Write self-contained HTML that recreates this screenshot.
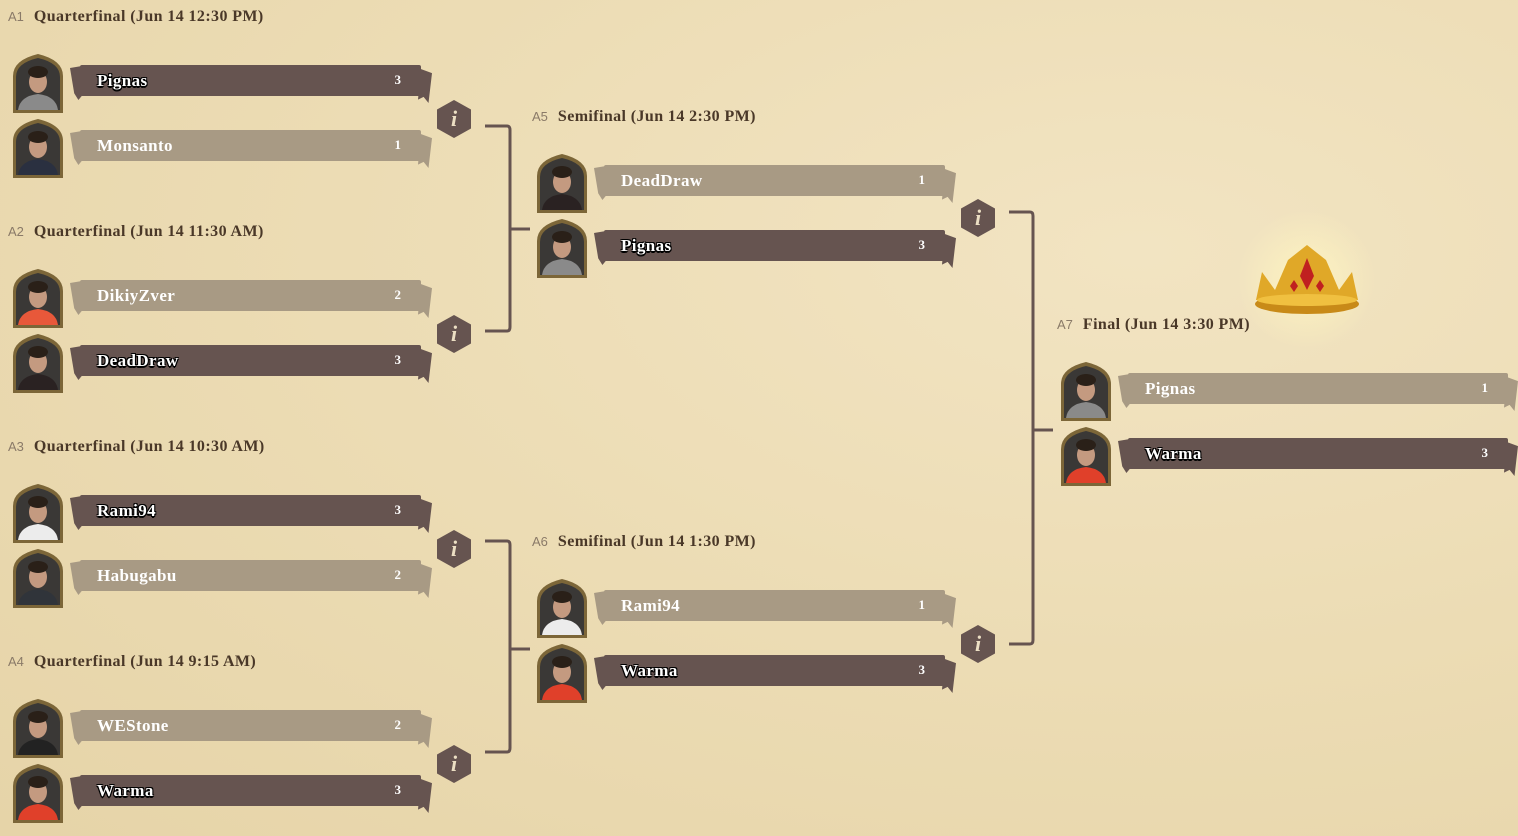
<!DOCTYPE html>
<html><head><meta charset="utf-8"><style>
body{margin:0;width:1518px;height:836px;overflow:hidden;background:#ecdcb4;position:relative;font-family:"Liberation Serif",serif}
.bg{position:absolute;inset:0;background:radial-gradient(ellipse at 75% 30%,#f2e4c2 0%,#ecdcb4 50%,#e6d4a8 100%)}
.t{position:absolute;font-size:16px;font-weight:bold;color:#4a3828;white-space:nowrap;letter-spacing:.4px}
.t span{font-family:"Liberation Sans",sans-serif;font-weight:normal;font-size:13px;color:#8a7a68;margin-right:10px;letter-spacing:0}
.b{position:absolute;height:31px;border-radius:2px}
.d{background:#665450}.l{background:#a89a84}
.n{position:absolute;top:6px;left:17px;font-size:17px;font-weight:bold;color:#fff;letter-spacing:.4px}
.d .n{text-shadow:-1px -1px 0 #000,1px -1px 0 #000,-1px 1px 0 #000,1px 1px 0 #000,0 2px 0 #000}
.s{position:absolute;top:7px;right:20px;font-size:13px;font-weight:bold;color:#fff}
.tl,.tr{position:absolute;width:14px;height:34px}
.tl{clip-path:polygon(0 6%,85% 0,100% 80%,60% 100%,30% 80%)}
.tr{clip-path:polygon(20% 0,100% 12%,75% 100%,40% 82%,0 90%)}
.hx{position:absolute;width:34px;height:38px;background:#665450;clip-path:polygon(50% 0,100% 25%,100% 75%,50% 100%,0 75%,0 25%);color:#ecdfc4;font:italic bold 22px "Liberation Serif",serif;text-align:center;line-height:38px}
.av{position:absolute;width:52px;height:60px}
</style></head><body><div class="bg"></div>
<svg width="0" height="0" style="position:absolute"><defs>
<symbol id="av" viewBox="0 0 52 60"><path d="M1,59L1,22Q1,6 26,0Q51,6 51,22L51,59Z" fill="#7c6638"/><path d="M4,56L4,23Q4,9 26,4Q48,9 48,23L48,56Z" fill="#3a3836"/><path d="M6,56Q8,42 26,40Q44,42 46,56Z" fill="currentColor"/><ellipse cx="26" cy="28" rx="9" ry="11" fill="#c49a80"/><ellipse cx="26" cy="18" rx="10" ry="6" fill="#2a2018"/></symbol></defs></svg>

<svg width="1518" height="836" style="position:absolute;left:0;top:0" fill="none" stroke="#665450" stroke-width="3">
<path d="M485,126H507Q510,126 510,130V327Q510,331 507,331H485M510,229H530"/>
<path d="M485,541H507Q510,541 510,545V748Q510,752 507,752H485M510,649H530"/>
<path d="M1009,212H1030Q1033,212 1033,216V640Q1033,644 1030,644H1009M1033,430H1053"/>
<defs><radialGradient id="gl"><stop offset="0" stop-color="#fff6c0" stop-opacity=".9"/><stop offset="1" stop-color="#fff6c0" stop-opacity="0"/></radialGradient></defs>
<circle cx="1307" cy="280" r="70" fill="url(#gl)" stroke="none"/>
<g stroke="none"><path d="M1256,300L1262,272L1275,290L1288,260L1307,245L1326,260L1339,290L1352,272L1358,300Z" fill="#e0a828"/><ellipse cx="1307" cy="304" rx="52" ry="10" fill="#c88a18"/><ellipse cx="1307" cy="300" rx="50" ry="6" fill="#f0c040"/><path d="M1307,258L1314,276L1307,290L1300,276Z" fill="#c02020"/><path d="M1294,280l4,6l-4,6l-4,-6Z M1320,280l4,6l-4,6l-4,-6Z" fill="#c02020"/></g>
</svg>

<div class="t" style="left:8px;top:8px"><span>A1</span>Quarterfinal (Jun 14 12:30 PM)</div>
<div class="t" style="left:8px;top:223px"><span>A2</span>Quarterfinal (Jun 14 11:30 AM)</div>
<div class="t" style="left:8px;top:438px"><span>A3</span>Quarterfinal (Jun 14 10:30 AM)</div>
<div class="t" style="left:8px;top:653px"><span>A4</span>Quarterfinal (Jun 14 9:15 AM)</div>
<div class="t" style="left:532px;top:108px"><span>A5</span>Semifinal (Jun 14 2:30 PM)</div>
<div class="t" style="left:532px;top:533px"><span>A6</span>Semifinal (Jun 14 1:30 PM)</div>
<div class="t" style="left:1057px;top:316px"><span>A7</span>Final (Jun 14 3:30 PM)</div>

<!-- QF bars -->
<div class="tl d" style="left:70px;top:66px"></div><div class="b d" style="left:80px;top:65px;width:341px"><div class="n">Pignas</div><div class="s">3</div></div><div class="tr d" style="left:418px;top:69px"></div>
<div class="tl l" style="left:70px;top:131px"></div><div class="b l" style="left:80px;top:130px;width:341px"><div class="n">Monsanto</div><div class="s">1</div></div><div class="tr l" style="left:418px;top:134px"></div>
<div class="tl l" style="left:70px;top:281px"></div><div class="b l" style="left:80px;top:280px;width:341px"><div class="n">DikiyZver</div><div class="s">2</div></div><div class="tr l" style="left:418px;top:284px"></div>
<div class="tl d" style="left:70px;top:346px"></div><div class="b d" style="left:80px;top:345px;width:341px"><div class="n">DeadDraw</div><div class="s">3</div></div><div class="tr d" style="left:418px;top:349px"></div>
<div class="tl d" style="left:70px;top:496px"></div><div class="b d" style="left:80px;top:495px;width:341px"><div class="n">Rami94</div><div class="s">3</div></div><div class="tr d" style="left:418px;top:499px"></div>
<div class="tl l" style="left:70px;top:561px"></div><div class="b l" style="left:80px;top:560px;width:341px"><div class="n">Habugabu</div><div class="s">2</div></div><div class="tr l" style="left:418px;top:564px"></div>
<div class="tl l" style="left:70px;top:711px"></div><div class="b l" style="left:80px;top:710px;width:341px"><div class="n">WEStone</div><div class="s">2</div></div><div class="tr l" style="left:418px;top:714px"></div>
<div class="tl d" style="left:70px;top:776px"></div><div class="b d" style="left:80px;top:775px;width:341px"><div class="n">Warma</div><div class="s">3</div></div><div class="tr d" style="left:418px;top:779px"></div>
<!-- SF bars -->
<div class="tl l" style="left:594px;top:166px"></div><div class="b l" style="left:604px;top:165px;width:341px"><div class="n">DeadDraw</div><div class="s">1</div></div><div class="tr l" style="left:942px;top:169px"></div>
<div class="tl d" style="left:594px;top:231px"></div><div class="b d" style="left:604px;top:230px;width:341px"><div class="n">Pignas</div><div class="s">3</div></div><div class="tr d" style="left:942px;top:234px"></div>
<div class="tl l" style="left:594px;top:591px"></div><div class="b l" style="left:604px;top:590px;width:341px"><div class="n">Rami94</div><div class="s">1</div></div><div class="tr l" style="left:942px;top:594px"></div>
<div class="tl d" style="left:594px;top:656px"></div><div class="b d" style="left:604px;top:655px;width:341px"><div class="n">Warma</div><div class="s">3</div></div><div class="tr d" style="left:942px;top:659px"></div>
<!-- Final -->
<div class="tl l" style="left:1118px;top:374px"></div><div class="b l" style="left:1128px;top:373px;width:380px"><div class="n">Pignas</div><div class="s">1</div></div><div class="tr l" style="left:1504px;top:377px"></div>
<div class="tl d" style="left:1118px;top:439px"></div><div class="b d" style="left:1128px;top:438px;width:380px"><div class="n">Warma</div><div class="s">3</div></div><div class="tr d" style="left:1504px;top:442px"></div>

<div class="hx" style="left:437px;top:100px">i</div>
<div class="hx" style="left:437px;top:315px">i</div>
<div class="hx" style="left:437px;top:530px">i</div>
<div class="hx" style="left:437px;top:745px">i</div>
<div class="hx" style="left:961px;top:199px">i</div>
<div class="hx" style="left:961px;top:625px">i</div>

<svg class="av" style="left:12px;top:54px;color:#8a8a8a"><use href="#av"/></svg>
<svg class="av" style="left:12px;top:119px;color:#2a3040"><use href="#av"/></svg>
<svg class="av" style="left:12px;top:269px;color:#e8583a"><use href="#av"/></svg>
<svg class="av" style="left:12px;top:334px;color:#2a2222"><use href="#av"/></svg>
<svg class="av" style="left:12px;top:484px;color:#ececec"><use href="#av"/></svg>
<svg class="av" style="left:12px;top:549px;color:#30343a"><use href="#av"/></svg>
<svg class="av" style="left:12px;top:699px;color:#222"><use href="#av"/></svg>
<svg class="av" style="left:12px;top:764px;color:#e0402a"><use href="#av"/></svg>
<svg class="av" style="left:536px;top:154px;color:#2a2222"><use href="#av"/></svg>
<svg class="av" style="left:536px;top:219px;color:#8a8a8a"><use href="#av"/></svg>
<svg class="av" style="left:536px;top:579px;color:#ececec"><use href="#av"/></svg>
<svg class="av" style="left:536px;top:644px;color:#e0402a"><use href="#av"/></svg>
<svg class="av" style="left:1060px;top:362px;color:#8a8a8a"><use href="#av"/></svg>
<svg class="av" style="left:1060px;top:427px;color:#e0402a"><use href="#av"/></svg>
</body></html>
